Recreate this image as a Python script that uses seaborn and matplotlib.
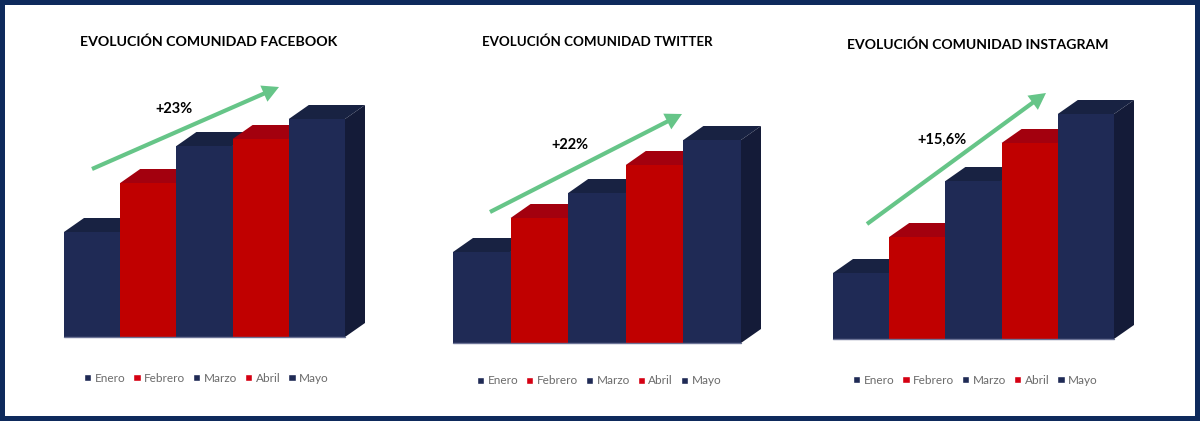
"""Evolucion de comunidades en redes: tres barras con falso 3D."""

import matplotlib.pyplot as plt
from matplotlib.patches import Polygon, Rectangle
import pandas as pd
import seaborn as sns

MESES = ["Enero", "Febrero", "Marzo", "Abril", "Mayo"]
FACEBOOK = [105, 154, 191, 198, 218]
TWITTER = [91, 125, 150, 178, 203]
INSTAGRAM = [66, 102, 158, 196, 225]

TITULOS = ["EVOLUCIÓN COMUNIDAD FACEBOOK", "EVOLUCIÓN COMUNIDAD TWITTER", "EVOLUCIÓN COMUNIDAD INSTAGRAM"]
CRECIMIENTOS = ["+23%", "+22%", "+15,6%"]

W, H = 1200, 421
NAVY, RED = "#1f2a55", "#c00000"
TOP = {NAVY: "#182242", RED: "#a3000e"}
SIDE = "#141b38"
LEYENDA = {NAVY: "#1f2a55", RED: "#d50012"}
VERDE = "#66c588"
MARCO = "#0e2a5c"
DX, DY = 20, 14  # profundidad del falso 3D, en pixeles

# x izq, x der, base, titulo, tamano titulo, flecha, texto, leyenda (pixeles, y hacia abajo)
LAYOUT = [
    (64, 345, 337, (209, 41.5), 10.15, (92, 169, 279, 87), (174.5, 109), (206.5, 378)),
    (453, 741, 343, (597.5, 41.5), 9.6, (490, 212, 682, 114), (569.5, 145), (599, 381)),
    (833, 1114, 339, (978, 44.5), 10.1, (867, 224, 1046, 93), (942, 140), (975.5, 380)),
]

sns.set_theme(style="white")
plt.rcParams["font.family"] = ["Lato", "DejaVu Sans"]


def fx(x):
    return x / W


def fy(y):
    return 1 - y / H


def draw_bars(ax, values, bar_px):
    """Dibuja las barras con seaborn y les agrega cara superior y lateral."""
    df = pd.DataFrame({"mes": MESES, "valor": values})
    palette = dict(zip(MESES, [NAVY, RED, NAVY, RED, NAVY]))
    sns.barplot(data=df, x="mes", y="valor", hue="mes", palette=palette, width=1,
                saturation=1, dodge=False, legend=False, linewidth=0, ax=ax, zorder=20)
    dx = DX / bar_px
    bars = list(ax.patches)
    for i, bar in enumerate(bars):
        color = NAVY if i % 2 == 0 else RED
        x0, x1, h = bar.get_x(), bar.get_x() + bar.get_width(), bar.get_height()
        ax.add_patch(Polygon([(x0, h), (x0 + dx, h + DY), (x1 + dx, h + DY), (x1, h)],
                             facecolor=TOP[color], edgecolor="none", zorder=5 + i, clip_on=False))
        if i == len(bars) - 1:
            ax.add_patch(Polygon([(x1, 0), (x1 + dx, DY), (x1 + dx, h + DY), (x1, h)],
                                 facecolor=SIDE, edgecolor="none", zorder=5, clip_on=False))
    ax.plot([-0.5, 4.5], [0, 0], color="#6c7396", lw=1, zorder=21, clip_on=False)
    ax.set_xlim(-0.5, 4.5 + dx)
    ax.set_ylim(0, 260)
    ax.axis("off")


def draw_legend(fig, ax, center):
    handles = [Rectangle((0, 0), 1, 1, facecolor=LEYENDA[NAVY if i % 2 == 0 else RED]) for i in range(5)]
    ax.legend(handles, MESES, loc="center", bbox_to_anchor=(fx(center[0]), fy(center[1])),
              bbox_transform=fig.transFigure, ncol=5, frameon=False, fontsize=8.5,
              labelcolor="#6b6b6b", handlelength=0.62, handleheight=0.62,
              handletextpad=0.3, columnspacing=0.65, borderpad=0, borderaxespad=0)


fig = plt.figure(figsize=(W / 100, H / 100), dpi=100, facecolor="white")
series = [FACEBOOK, TWITTER, INSTAGRAM]

for values, titulo, crece, layout in zip(series, TITULOS, CRECIMIENTOS, LAYOUT):
    x0, x1, base, t_pos, t_size, arrow, c_pos, l_pos = layout
    bar_px = (x1 - x0) / 5
    ax = fig.add_axes([fx(x0), fy(base), fx(x1 - x0 + DX), 260 / H])
    draw_bars(ax, values, bar_px)
    draw_legend(fig, ax, l_pos)
    fig.text(fx(t_pos[0]), fy(t_pos[1]), titulo, ha="center", va="center",
             fontsize=t_size, fontweight="bold", color="black")
    fig.text(fx(c_pos[0]), fy(c_pos[1]), crece, ha="center", va="center",
             fontsize=10.5, fontweight="bold", color="black", zorder=30)
    ax.annotate("", xy=(fx(arrow[2]), fy(arrow[3])), xytext=(fx(arrow[0]), fy(arrow[1])),
                xycoords="figure fraction", textcoords="figure fraction", zorder=30,
                arrowprops=dict(arrowstyle="-|>,head_length=0.6,head_width=0.32", color=VERDE,
                                lw=3, shrinkA=0, shrinkB=0, joinstyle="miter", capstyle="butt"))

# marco exterior
fig.add_artist(Rectangle((0, 0), 1, 1, transform=fig.transFigure, facecolor="none",
                         edgecolor=MARCO, lw=7.2))

fig.savefig("out.png", dpi=100)
